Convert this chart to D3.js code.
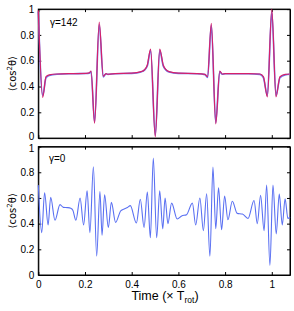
<!DOCTYPE html>
<html>
<head>
<meta charset="utf-8">
<script src="https://cdn.jsdelivr.net/npm/d3@7"></script>
<style>
  body { margin: 0; background: #fff; }
  svg { display: block; font-family: "Liberation Sans", Arial, sans-serif; }
  .axis text { font-size: 10px; fill: #000; }
  .axis path, .axis line { stroke: #000; stroke-width: 1; }
</style>
</head>
<body>
<script>
// tick values
var xTicks = [0, 0.2, 0.4, 0.6, 0.8, 1];
var yTicks = [0, 0.2, 0.4, 0.6, 0.8, 1];

// gamma = 142 (two nearly identical curves)
var tTop    = [0, 0.019, 0.033, 0.047, 0.08, 0.15, 0.205, 0.218, 0.226, 0.241, 0.261, 0.278, 0.29, 0.298, 0.33, 0.4, 0.44, 0.455, 0.467, 0.481, 0.501, 0.52, 0.535, 0.547, 0.56, 0.6, 0.68, 0.714, 0.725, 0.741, 0.76, 0.777, 0.788, 0.8, 0.9, 0.949, 0.964, 0.981, 1.0, 1.018, 1.035, 1.057, 1.078];
var redTop  = [0.99, 0.316, 0.476, 0.49, 0.497, 0.5, 0.502, 0.505, 0.52, 0.115, 0.90, 0.48, 0.50, 0.495, 0.5, 0.503, 0.515, 0.53, 0.567, 0.69, 0.01, 0.69, 0.567, 0.53, 0.515, 0.503, 0.5, 0.494, 0.476, 0.89, 0.11, 0.52, 0.497, 0.5, 0.5, 0.497, 0.476, 0.32, 1.0, 0.32, 0.476, 0.494, 0.497];
var blueTop = [0.98, 0.33, 0.468, 0.486, 0.495, 0.499, 0.501, 0.503, 0.515, 0.125, 0.88, 0.475, 0.498, 0.494, 0.499, 0.502, 0.513, 0.527, 0.56, 0.68, 0.02, 0.68, 0.56, 0.527, 0.513, 0.502, 0.499, 0.492, 0.47, 0.875, 0.12, 0.515, 0.495, 0.499, 0.499, 0.494, 0.468, 0.33, 0.98, 0.33, 0.468, 0.49, 0.495];

// gamma = 0
var tBot = [0, 0.0146, 0.027, 0.042, 0.053, 0.0715, 0.093, 0.107, 0.125, 0.139, 0.148, 0.161, 0.179, 0.194, 0.209, 0.221, 0.236, 0.25, 0.264, 0.273, 0.284, 0.30, 0.313, 0.331, 0.353, 0.37, 0.382, 0.394, 0.42, 0.437, 0.453, 0.467, 0.48, 0.4925, 0.507, 0.52, 0.533, 0.543, 0.555, 0.571, 0.595, 0.614, 0.635, 0.66, 0.674, 0.692, 0.707, 0.721, 0.735, 0.748, 0.76, 0.772, 0.785, 0.798, 0.812, 0.831, 0.852, 0.874, 0.898, 0.924, 0.938, 0.952, 0.967, 0.978, 0.992, 1.005, 1.019, 1.032, 1.045, 1.057, 1.069, 1.078];
var vBot = [0.70, 0.33, 0.64, 0.39, 0.605, 0.426, 0.548, 0.527, 0.525, 0.52, 0.505, 0.426, 0.60, 0.39, 0.656, 0.33, 0.843, 0.147, 0.65, 0.31, 0.625, 0.37, 0.566, 0.41, 0.50, 0.516, 0.525, 0.54, 0.405, 0.59, 0.37, 0.646, 0.29, 0.91, 0.29, 0.656, 0.36, 0.60, 0.40, 0.56, 0.436, 0.46, 0.47, 0.56, 0.39, 0.60, 0.345, 0.633, 0.146, 0.84, 0.36, 0.68, 0.353, 0.615, 0.43, 0.574, 0.48, 0.475, 0.44, 0.58, 0.40, 0.62, 0.345, 0.70, 0.075, 0.70, 0.32, 0.63, 0.39, 0.594, 0.44, 0.45];

var svg = d3.select("body").append("svg").attr("width", 294).attr("height", 311);

var x = d3.scaleLinear().domain([0, 1.078]).range([38.3, 290]);
var yT = d3.scaleLinear().domain([0, 1]).range([138.1, 9.1]);
var yB = d3.scaleLinear().domain([0, 1]).range([275, 146.6]);

var fmt = function (d) { return +d.toFixed(1); };

function frame(y, showX) {
    var g = svg.append("g");
    g.append("g").attr("class", "axis")
        .attr("transform", "translate(0," + y.range()[0] + ")")
        .call(d3.axisBottom(x).tickValues(xTicks).tickSize(-3).tickSizeOuter(0).tickPadding(6)
            .tickFormat(showX ? fmt : ""));
    g.append("g").attr("class", "axis")
        .attr("transform", "translate(0," + y.range()[1] + ")")
        .call(d3.axisTop(x).tickValues(xTicks).tickSize(-3).tickSizeOuter(0).tickFormat(""));
    var ya = g.append("g").attr("class", "axis")
        .attr("transform", "translate(" + x.range()[0] + ",0)")
        .call(d3.axisLeft(y).tickValues(yTicks).tickSize(-3).tickSizeOuter(0).tickPadding(4).tickFormat(fmt));
    g.append("g").attr("class", "axis")
        .attr("transform", "translate(" + x.range()[1] + ",0)")
        .call(d3.axisRight(y).tickValues(yTicks).tickSize(-3).tickSizeOuter(0).tickFormat(""));
    g.append("rect")
        .attr("x", x.range()[0]).attr("y", y.range()[1])
        .attr("width", x.range()[1] - x.range()[0])
        .attr("height", y.range()[0] - y.range()[1])
        .attr("fill", "none").attr("stroke", "#000");
    return ya;
}

function curve(ts, vs, y, color, w) {
    var line = d3.line()
        .x(function (d) { return x(d[0]); })
        .y(function (d) { return y(d[1]); })
        .curve(d3.curveMonotoneX);
    svg.append("path")
        .datum(d3.zip(ts, vs))
        .attr("d", line)
        .attr("fill", "none")
        .attr("stroke", color)
        .attr("stroke-width", w)
        .attr("stroke-linejoin", "round");
}

var yaTop = frame(yT, false);
var yaBot = frame(yB, true);
// the panels touch: nudge the neighbouring "0" and "1" labels apart a little
yaTop.selectAll(".tick text").filter(function (d) { return d === 0; }).attr("dy", "0.17em");
yaBot.selectAll(".tick text").filter(function (d) { return d === 1; }).attr("dy", "0.47em");

curve(tTop, blueTop, yT, "#6c7cf0", 1.6);
curve(tTop, redTop, yT, "#d6206a", 1.2);
curve(tBot, vBot, yB, "#5a70f2", 1.1);

// annotations
svg.append("text").attr("x", 50).attr("y", 26).attr("font-size", 10).text("\u03b3=142");
svg.append("text").attr("x", 49).attr("y", 162).attr("font-size", 10).text("\u03b3=0");

function ylabel(cy) {
    var t = svg.append("text")
        .attr("transform", "translate(16," + cy + ") rotate(-90)")
        .attr("text-anchor", "middle")
        .attr("font-size", 10)
        .style("font-family", "'DejaVu Sans', sans-serif");
    t.append("tspan").text("\u27e8cos");
    t.append("tspan").attr("font-size", 7).attr("dy", -4).text("2");
    t.append("tspan").attr("dy", 4).text("\u03b8\u27e9");
}
ylabel(73.6);
ylabel(210.8);

var xl = svg.append("text")
    .attr("x", 165).attr("y", 300)
    .attr("text-anchor", "middle")
    .attr("font-size", 12.5);
xl.append("tspan").text("Time (\u00d7 T");
xl.append("tspan").attr("font-size", 8.5).attr("dy", 3).text("rot");
xl.append("tspan").attr("dy", -3).text(")");
</script>
</body>
</html>
